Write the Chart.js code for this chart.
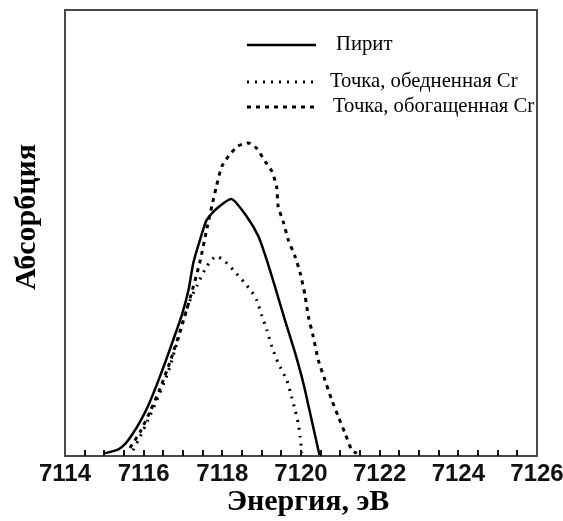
<!DOCTYPE html>
<html lang="ru">
<head>
    <meta charset="UTF-8">
    <title>Абсорбция</title>
    <style>
        * { margin: 0; padding: 0; box-sizing: border-box; }
        body { background: #FFFFFF; width: 563px; height: 521px; overflow: hidden; }
        .chart-container { position: relative; width: 563px; height: 521px; }
    </style>
</head>
<body>
    <div class="chart-container">
        <canvas id="chart"></canvas>
    </div>

    <script src="https://cdn.jsdelivr.net/npm/chart.js@4.4.0/dist/chart.umd.min.js"></script>
    <script>
        // Energy axis (eV)
        const xMin = 7114, xMax = 7126;
        const tickValues = [7114, 7116, 7118, 7120, 7122, 7124, 7126];

        // Пирит
        const pyriteE = [7115.02, 7115.36, 7115.53, 7115.70, 7115.91, 7116.12, 7116.33, 7116.54, 7116.75, 7116.97,
                         7117.14, 7117.26, 7117.43, 7117.60, 7117.86, 7118.24, 7118.62, 7118.92, 7119.13, 7119.34,
                         7119.59, 7119.85, 7120.06, 7120.27, 7120.47];
        const pyriteA = [0.006, 0.015, 0.027, 0.047, 0.077, 0.114, 0.159, 0.208, 0.260, 0.316,
                         0.372, 0.432, 0.484, 0.529, 0.555, 0.576, 0.537, 0.492, 0.439, 0.379,
                         0.305, 0.231, 0.163, 0.081, 0.002];

        // Точка, обедненная Cr
        const depletedE = [7115.73, 7115.91, 7116.11, 7116.34, 7116.62, 7116.87, 7117.13, 7117.36, 7117.61, 7117.84,
                           7118.07, 7118.28, 7118.58, 7118.75, 7118.87, 7119.00, 7119.13, 7119.26, 7119.42, 7119.64,
                           7119.76, 7119.85, 7119.93, 7119.98, 7120.02];
        const depletedA = [0.013, 0.043, 0.081, 0.126, 0.188, 0.260, 0.339, 0.383, 0.426, 0.448,
                           0.436, 0.417, 0.387, 0.368, 0.350, 0.316, 0.283, 0.245, 0.208, 0.170,
                           0.133, 0.103, 0.073, 0.043, 0.007];

        // Точка, обогащенная Cr
        const enrichedE = [7115.65, 7115.91, 7116.16, 7116.42, 7116.67, 7116.92, 7117.18, 7117.43, 7117.61, 7117.74,
                           7117.84, 7117.99, 7118.20, 7118.40, 7118.66, 7118.87, 7119.09, 7119.26, 7119.38, 7119.42,
                           7119.55, 7119.68, 7119.85, 7119.98, 7120.10, 7120.19, 7120.31, 7120.44, 7120.61, 7120.78,
                           7120.95, 7121.12, 7121.29, 7121.42];
        const enrichedA = [0.018, 0.054, 0.099, 0.152, 0.211, 0.278, 0.354, 0.435, 0.511, 0.563,
                           0.601, 0.650, 0.677, 0.695, 0.702, 0.690, 0.660, 0.638, 0.604, 0.559,
                           0.525, 0.484, 0.447, 0.410, 0.361, 0.312, 0.268, 0.215, 0.170, 0.126,
                           0.088, 0.051, 0.013, 0.006];

        const toPoints = (xs, ys) => xs.map((x, i) => ({ x: x, y: ys[i] }));

        // frame, inward minor ticks, legend and axis titles
        const decorations = {
            id: 'decorations',
            afterDatasetsDraw(chart) {
                const ctx = chart.ctx;
                const area = chart.chartArea;
                const xs = chart.scales.x;
                ctx.save();

                ctx.strokeStyle = '#4a4a4a';
                ctx.lineWidth = 2;
                ctx.strokeRect(area.left, area.top, area.right - area.left, area.bottom - area.top);

                ctx.strokeStyle = '#111';
                ctx.lineWidth = 2;
                for (let v = xMin + 0.5; v < xMax; v += 0.5) {
                    const px = Math.round(xs.getPixelForValue(v));
                    ctx.beginPath();
                    ctx.moveTo(px, area.bottom);
                    ctx.lineTo(px, area.bottom - 6);
                    ctx.stroke();
                }

                // legend
                const rows = [45, 82, 107];
                const textX = [336, 330, 333];
                chart.data.datasets.forEach((ds, i) => {
                    ctx.strokeStyle = '#000';
                    ctx.lineWidth = ds.borderWidth;
                    ctx.lineCap = 'butt';
                    ctx.setLineDash(ds.borderDash || []);
                    ctx.beginPath();
                    ctx.moveTo(247, rows[i]);
                    ctx.lineTo(316, rows[i]);
                    ctx.stroke();
                    ctx.setLineDash([]);
                    ctx.fillStyle = '#000';
                    ctx.font = '20.7px "Liberation Serif", "Times New Roman", serif';
                    ctx.textBaseline = 'middle';
                    ctx.textAlign = 'left';
                    ctx.fillText(ds.label, textX[i], rows[i]);
                });

                // axis titles
                ctx.fillStyle = '#000';
                ctx.font = 'bold 30px "Liberation Serif", "Times New Roman", serif';
                ctx.textAlign = 'center';
                ctx.textBaseline = 'middle';
                ctx.fillText('Энергия, эВ', 308, 502);

                ctx.translate(27, 217);
                ctx.rotate(-Math.PI / 2);
                ctx.fillText('Абсорбция', 0, 0);

                ctx.restore();
            }
        };

        new Chart(document.getElementById('chart'), {
            type: 'line',
            data: {
                datasets: [
                    {
                        label: 'Пирит',
                        data: toPoints(pyriteE, pyriteA),
                        borderColor: '#000',
                        borderWidth: 2.5,
                        pointRadius: 0,
                        tension: 0.2
                    },
                    {
                        label: 'Точка, обедненная Cr',
                        data: toPoints(depletedE, depletedA),
                        borderColor: '#000',
                        borderWidth: 3,
                        borderDash: [2, 6],
                        pointRadius: 0,
                        tension: 0.2
                    },
                    {
                        label: 'Точка, обогащенная Cr',
                        data: toPoints(enrichedE, enrichedA),
                        borderColor: '#000',
                        borderWidth: 3,
                        borderDash: [4, 5],
                        pointRadius: 0,
                        tension: 0.2
                    }
                ]
            },
            options: {
                responsive: true,
                maintainAspectRatio: false,
                animation: false,
                layout: { padding: { left: 65, right: 26, top: 10, bottom: 0 } },
                plugins: {
                    legend: { display: false },
                    tooltip: { enabled: false }
                },
                scales: {
                    x: {
                        type: 'linear',
                        min: xMin,
                        max: xMax,
                        afterBuildTicks: (axis) => { axis.ticks = tickValues.map(v => ({ value: v })); },
                        afterFit: (axis) => {
                            axis.height = 65;
                            axis.paddingLeft = 0;
                            axis.paddingRight = 0;
                        },
                        grid: { display: false, drawTicks: false },
                        border: { display: false },
                        ticks: {
                            padding: 4,
                            color: '#111',
                            maxRotation: 0,
                            callback: (value) => String(value),
                            font: { family: '"Liberation Sans", Arial, sans-serif', size: 24, weight: 'bold' }
                        }
                    },
                    y: {
                        display: false,
                        min: 0,
                        max: 1
                    }
                }
            },
            plugins: [decorations]
        });
    </script>
</body>
</html>
